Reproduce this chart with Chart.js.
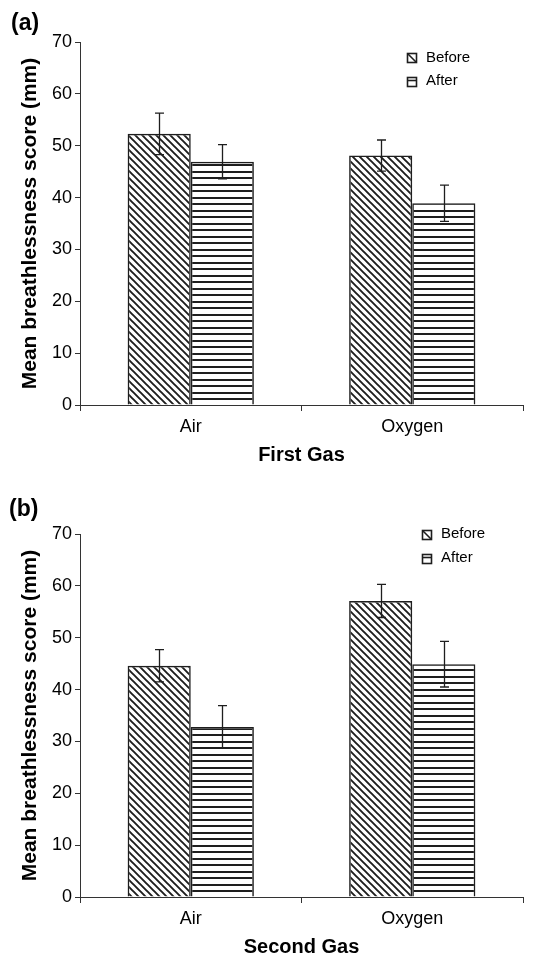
<!DOCTYPE html>
<html>
<head>
<meta charset="utf-8">
<script src="https://cdn.jsdelivr.net/npm/chart.js@4.4.1/dist/chart.umd.min.js"></script>
<style>
  body { margin: 0; background: #fff; overflow: hidden; }
  #wrap { position: relative; width: 541px; height: 955px; }
  canvas { position: absolute; left: 0; }
</style>
</head>
<body>
<div id="wrap">
  <canvas id="chartA" width="541" height="463" style="top:0"></canvas>
  <canvas id="chartB" width="541" height="463" style="top:492px"></canvas>
</div>
<script>
var categories = ['Air', 'Oxygen'];
var seriesNames = ['Before', 'After'];
var hatchKinds = ['diag', 'horiz'];

// (a) first gas
var firstBefore = [52.3, 48.1];
var firstBeforeErr = [4.0, 3.0];
var firstAfter = [46.9, 38.9];
var firstAfterErr = [3.3, 3.5];

// (b) second gas
var secondBefore = [44.6, 57.1];
var secondBeforeErr = [3.1, 3.2];
var secondAfter = [32.8, 44.9];
var secondAfterErr = [4.1, 4.4];

var yMin = 0, yMax = 70, yStep = 10;
var yTitle = 'Mean breathlessness score (mm)';

var FONT = '"Liberation Sans", Arial, sans-serif';
var INK = '#1e1e1e';

function makeHatch(kind) {
	var c = document.createElement('canvas');
	var g = c.getContext('2d');
	if (kind === 'diag') {
		c.width = 7; c.height = 7;
		g.strokeStyle = INK;
		g.lineWidth = 1.9;
		g.beginPath();
		g.moveTo(-1, -1); g.lineTo(8, 8);
		g.moveTo(-1, 6); g.lineTo(1, 8);
		g.moveTo(6, -1); g.lineTo(8, 1);
		g.stroke();
	} else {
		c.width = 8; c.height = 13;
		g.fillStyle = INK;
		g.fillRect(0, 2, 8, 2);
		g.fillRect(0, 8, 8, 2);
	}
	return g.createPattern(c, 'repeat');
}

var errorBars = {
	id: 'errorBars',
	afterDatasetsDraw: function(chart) {
		var ctx = chart.ctx;
		var ys = chart.scales.y;
		ctx.save();
		ctx.strokeStyle = INK;
		ctx.lineWidth = 1.3;
		chart.data.datasets.forEach(function(ds, di) {
			var meta = chart.getDatasetMeta(di);
			meta.data.forEach(function(bar, i) {
				var v = ds.data[i], e = ds.errors[i];
				var yt = ys.getPixelForValue(v + e);
				var yb = ys.getPixelForValue(v - e);
				var x = Math.round(bar.x) + 0.5;
				ctx.beginPath();
				ctx.moveTo(x, yt); ctx.lineTo(x, yb);
				ctx.moveTo(x - 4.5, yt); ctx.lineTo(x + 4.5, yt);
				ctx.moveTo(x - 4.5, yb); ctx.lineTo(x + 4.5, yb);
				ctx.stroke();
			});
		});
		ctx.restore();
	}
};

var hatchLegend = {
	id: 'hatchLegend',
	afterDraw: function(chart, args, opts) {
		var ctx = chart.ctx;
		ctx.save();
		ctx.font = '15px ' + FONT;
		ctx.textBaseline = 'middle';
		ctx.fillStyle = '#000';
		chart.data.datasets.forEach(function(ds, di) {
			var cy = opts.y + di * opts.gap;
			var s = 9, x0 = opts.x + 0.5, y0 = Math.round(cy - s / 2) + 0.5;
			ctx.strokeStyle = INK;
			ctx.lineWidth = 1.6;
			ctx.strokeRect(x0, y0, s, s);
			ctx.beginPath();
			if (ds.hatch === 'diag') {
				ctx.moveTo(x0, y0); ctx.lineTo(x0 + s, y0 + s);
			} else {
				ctx.moveTo(x0, y0 + 3); ctx.lineTo(x0 + s, y0 + 3);
			}
			ctx.stroke();
			ctx.fillText(ds.label, opts.x + 19, cy);
		});
		ctx.restore();
	}
};

var panelLabel = {
	id: 'panelLabel',
	afterDraw: function(chart, args, opts) {
		var ctx = chart.ctx;
		ctx.save();
		ctx.font = 'bold 23px ' + FONT;
		ctx.textBaseline = 'middle';
		ctx.fillStyle = '#000';
		ctx.fillText(opts.text, opts.x, opts.y);
		ctx.restore();
	}
};

function renderChart(id, before, beforeErr, after, afterErr, xTitle, panel, legendPos) {
	var values = [before, after];
	var errs = [beforeErr, afterErr];
	var datasets = seriesNames.map(function(name, i) {
		return {
			label: name,
			data: values[i],
			errors: errs[i],
			hatch: hatchKinds[i],
			backgroundColor: makeHatch(hatchKinds[i]),
			borderColor: INK,
			borderWidth: 1.5,
			categoryPercentage: 0.57,
			barPercentage: 1.0
		};
	});

	return new Chart(document.getElementById(id), {
		type: 'bar',
		data: { labels: categories, datasets: datasets },
		plugins: [errorBars, hatchLegend, panelLabel],
		options: {
			responsive: false,
			animation: false,
			devicePixelRatio: 1,
			layout: { padding: { top: 42, right: 18, left: 0, bottom: 0 } },
			plugins: {
				legend: { display: false },
				tooltip: { enabled: false },
				hatchLegend: legendPos,
				panelLabel: panel
			},
			scales: {
				x: {
					ticks: { color: '#000', font: { family: FONT, size: 18 }, padding: 5 },
					grid: { display: true, drawOnChartArea: false, drawTicks: true, tickLength: 6, color: '#333', offset: true },
					border: { display: true, color: '#333', width: 1 },
					title: {
						display: true, text: xTitle, color: '#000',
						font: { family: FONT, size: 20, weight: 'bold', lineHeight: 0.8 },
						padding: { top: 0, bottom: 0 }
					},
					afterFit: function(s) { s.height = 58; }
				},
				y: {
					min: yMin, max: yMax,
					ticks: { stepSize: yStep, color: '#000', font: { family: FONT, size: 18 }, padding: 3 },
					grid: { display: true, drawOnChartArea: false, drawTicks: true, tickLength: 5, color: '#333' },
					border: { display: true, color: '#333', width: 1 },
					title: {
						display: true, text: yTitle, color: '#000',
						font: { family: FONT, size: 21, weight: 'bold', lineHeight: 1 },
						padding: { top: 20, bottom: 0 }
					},
					afterFit: function(s) { s.width = 80; }
				}
			}
		}
	});
}

renderChart('chartA', firstBefore, firstBeforeErr, firstAfter, firstAfterErr, 'First Gas',
	{ text: '(a)', x: 11, y: 24 }, { x: 407, y: 57.5, gap: 23.5 });
renderChart('chartB', secondBefore, secondBeforeErr, secondAfter, secondAfterErr, 'Second Gas',
	{ text: '(b)', x: 9, y: 18 }, { x: 422, y: 42, gap: 24 });
</script>
</body>
</html>
